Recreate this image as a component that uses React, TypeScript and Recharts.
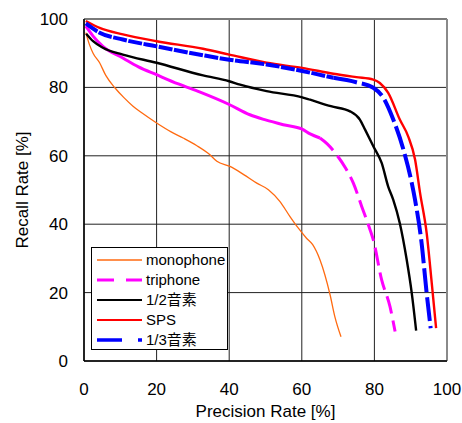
import React from 'react';
import { LineChart, Line, XAxis, YAxis, CartesianGrid, ReferenceLine, Legend, Label } from 'recharts';

// Precision (x) / Recall (y) pairs
const monophonePrecision = [0.5, 1.5, 2.5, 4.3, 6, 8.5, 11, 13.5, 16, 20, 24, 27.3, 31, 34.7, 36.6, 40.2, 44, 47.6, 50.8, 54, 56.7, 59, 61.3, 63, 65, 67.8, 69.1, 70.8];
const monophoneRecall = [96, 92.5, 90, 87.2, 83.5, 79.9, 77, 74.5, 72.5, 69.6, 67, 65.2, 63, 60.3, 58.4, 56.9, 54.5, 52, 50.1, 46.6, 42.3, 38.9, 35.9, 34, 29.6, 19.3, 13, 7.1];

const triphonePrecision = [0.5, 2.5, 5.2, 10.7, 15, 20, 26, 32, 40, 45.7, 50, 54.9, 60.1, 62.3, 65, 67, 69.6, 72, 74.2, 76.5, 78.8, 79.7, 82, 84.3, 85.7];
const triphoneRecall = [97.9, 95, 92, 88.6, 86, 83.7, 81, 78.6, 75, 72, 70.5, 69.1, 67.8, 66.4, 65.2, 63.5, 60.3, 56.5, 52, 45.2, 38.4, 35.4, 23.7, 15.9, 8.6];

const halfPhonePrecision = [0.6, 2.5, 5.2, 10.7, 20, 32.8, 40, 43, 50.3, 60.1, 62.3, 68, 73.3, 76, 77.5, 79.7, 82, 83.8, 85.2, 87, 88.9, 90.3, 91.5];
const halfPhoneRecall = [95.7, 93.5, 91.6, 89.6, 87.2, 83.5, 81.8, 80.8, 78.9, 77.1, 76.4, 74.5, 73, 70.6, 67.5, 62.8, 57.9, 51, 47.1, 40.3, 29.6, 19.8, 8.9];

const spsPrecision = [0.5, 4.3, 10.7, 20, 32.8, 40, 50.3, 60.1, 68.7, 75, 79.7, 81.5, 83.8, 87, 89.3, 91.2, 92.6, 94.4, 95.8, 97];
const spsRecall = [99.4, 97.4, 95.5, 93.5, 91.3, 89.6, 87.2, 85.7, 84, 83, 82.3, 81.3, 78.4, 70.6, 65.7, 58.9, 49, 37.4, 22.8, 9.6];

const thirdPhonePrecision = [0.5, 4.3, 10.7, 20, 32.8, 40, 50.3, 60.1, 68.7, 75, 79.7, 82.5, 85.2, 88, 90.3, 91.2, 93, 94.4, 95.5];
const thirdPhoneRecall = [98.7, 96, 94, 92, 89.4, 88.1, 86.7, 84.8, 82.8, 81.5, 79.9, 76.9, 70.6, 61.8, 52, 47.1, 34.5, 19.8, 9.6];

const axisTicks = [0, 20, 40, 60, 80, 100];

const seriesNames = ['monophone', 'triphone', '1/2音素', 'SPS', '1/3音素'];

const toPoints = (xs: number[], ys: number[]) => xs.map((x, i) => ({ x, y: ys[i] }));

const monophone = toPoints(monophonePrecision, monophoneRecall);
const triphone = toPoints(triphonePrecision, triphoneRecall);
const halfPhone = toPoints(halfPhonePrecision, halfPhoneRecall);
const sps = toPoints(spsPrecision, spsRecall);
const thirdPhone = toPoints(thirdPhonePrecision, thirdPhoneRecall);

// dense part of the curves is drawn (nearly) solid, sparse tail dashed
const triphoneHead = triphone.filter((p) => p.x <= 65);
const triphoneTail = triphone.filter((p) => p.x >= 65);
const thirdHead = thirdPhone.filter((p) => p.x <= 68.7);
const thirdTail = thirdPhone.filter((p) => p.x >= 68.7);

const legendStyles = [
  { color: '#FF6A10', width: 1.3, dash: undefined as string | undefined },
  { color: '#FF00FF', width: 3, dash: '17 12' },
  { color: '#000000', width: 2.2, dash: undefined },
  { color: '#FF0000', width: 2.2, dash: undefined },
  { color: '#0000FF', width: 3.5, dash: '25 16' },
];

const LegendBox = () => (
  <svg width={137} height={103} style={{ display: 'block' }}>
    <rect x={0.5} y={0.5} width={136} height={102} fill="#fff" stroke="#000" strokeWidth={1} />
    {seriesNames.map((name, i) => {
      const cy = 13 + i * 20;
      const st = legendStyles[i];
      return (
        <g key={name}>
          <line x1={6} x2={51} y1={cy} y2={cy} stroke={st.color} strokeWidth={st.width} strokeDasharray={st.dash} />
          <text x={55} y={cy + 5} fontSize={15} fill="#000" fontFamily="'Liberation Sans', 'Noto Sans CJK JP', sans-serif">
            {name}
          </text>
        </g>
      );
    })}
  </svg>
);

const tickStyle = { fontSize: 17, fill: '#000', fontFamily: "'Liberation Sans', Arial, sans-serif" };

export default function App() {
  return (
    <div style={{ position: 'absolute', left: 0, top: 0, background: '#fff' }}>
      <LineChart
        width={462}
        height={423}
        margin={{ top: 19, right: 15, bottom: 0, left: 0 }}
        style={{ fontFamily: "'Liberation Sans', Arial, sans-serif" }}
      >
        <CartesianGrid stroke="#222" strokeWidth={1} />
        <XAxis
          dataKey="x"
          type="number"
          domain={[0, 100]}
          ticks={axisTicks}
          height={62}
          tickLine={false}
          tickSize={6}
          tickMargin={16}
          axisLine={{ stroke: '#000', strokeWidth: 1.5 }}
          tick={tickStyle}
          allowDuplicatedCategory={false}
        >
          <Label value="Precision Rate [%]" position="insideBottom" offset={6} style={{ fontSize: 17, fill: '#000' }} />
        </XAxis>
        <YAxis
          dataKey="y"
          type="number"
          domain={[0, 100]}
          ticks={axisTicks}
          width={84}
          tickLine={false}
          tickSize={6}
          tickMargin={10}
          axisLine={{ stroke: '#000', strokeWidth: 1.5 }}
          tick={tickStyle}
        >
          <Label
            value="Recall Rate [%]"
            angle={-90}
            position="insideLeft"
            offset={22}
            style={{ fontSize: 17, fill: '#000', textAnchor: 'middle' }}
          />
        </YAxis>
        <ReferenceLine y={100} stroke="#7a7a7a" strokeWidth={2} />
        <ReferenceLine x={100} stroke="#8a8a8a" strokeWidth={2} />
        <Line data={monophone} dataKey="y" type="monotone" stroke="#FF6A10" strokeWidth={1.3} dot={false} isAnimationActive={false} name={seriesNames[0]} />
        <Line data={triphoneHead} dataKey="y" type="monotone" stroke="#FF00FF" strokeWidth={3} dot={false} isAnimationActive={false} name={seriesNames[1]} legendType="none" />
        <Line data={triphoneTail} dataKey="y" type="monotone" stroke="#FF00FF" strokeWidth={3} strokeDasharray="18 7" dot={false} isAnimationActive={false} legendType="none" />
        <Line data={halfPhone} dataKey="y" type="monotone" stroke="#000" strokeWidth={2.4} dot={false} isAnimationActive={false} name={seriesNames[2]} />
        <Line data={sps} dataKey="y" type="monotone" stroke="#FF0000" strokeWidth={2.4} dot={false} isAnimationActive={false} name={seriesNames[3]} />
        <Line data={thirdHead} dataKey="y" type="monotone" stroke="#0000FF" strokeWidth={4} strokeDasharray="14 1.5" dot={false} isAnimationActive={false} name={seriesNames[4]} />
        <Line data={thirdTail} dataKey="y" type="monotone" stroke="#0000FF" strokeWidth={4} strokeDasharray="24 5" dot={false} isAnimationActive={false} legendType="none" />
        <Legend
          layout="horizontal"
          align="center"
          verticalAlign="middle"
          wrapperStyle={{ left: 91, top: 247, width: 137, height: 103, bottom: 'auto', right: 'auto' }}
          content={() => <LegendBox />}
        />
      </LineChart>
    </div>
  );
}
